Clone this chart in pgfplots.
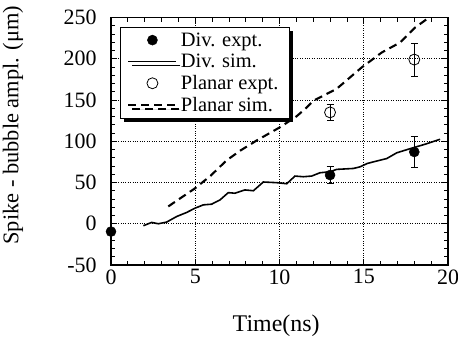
\documentclass[border=0pt]{standalone}
\usepackage{pgfplots}
\pgfplotsset{compat=1.18}
\usepackage{fontspec}
\setmainfont{Liberation Serif}
\usetikzlibrary{shadows}
\begin{document}
\begin{tikzpicture}
\useasboundingbox (-111bp,-74bp) rectangle (347bp,265bp);
\begin{axis}[
  at={(0,0)}, anchor=south west,
  scale only axis, width=337bp, height=247.5bp,
  xmin=0, xmax=20, ymin=-50, ymax=250,
  clip=false,
  xtick={0,5,10,15,20}, ytick={-50,0,50,100,150,200,250},
  minor x tick num=4, minor y tick num=4,
  tick align=inside, major tick length=6bp, minor tick length=4bp,
  tick style={black, line width=0.7pt},
  axis line style={line width=1.1pt},
  grid=major, major grid style={black, dotted, line width=0.7pt},
  /pgf/number format/assume math mode=true,
  tick label style={font=\fontsize{22}{24}\selectfont},
  yticklabel style={xshift=-11bp},
  xticklabel style={yshift=-1bp},
  xlabel={Time(ns)},
  xlabel style={font=\fontsize{24}{28}\selectfont, at={(axis description cs:0.49,0)}, anchor=base, yshift=-66bp},
  ylabel={Spike - bubble ampl. (μm)},
  ylabel style={font=\fontsize{22.5}{26}\selectfont, at={(axis description cs:0,0.565)}, anchor=center, yshift=98bp},
  legend image code/.code={\draw[mark repeat=2,mark phase=2,#1] plot coordinates {(0bp,0bp) (24bp,0bp) (48bp,0bp)};},
  legend style={at={(axis description cs:0,1)}, anchor=north west, xshift=9bp, yshift=-9.5bp,
    font=\fontsize{20.5}{22}\selectfont, draw=black, line width=0.8pt, fill=white,
    inner xsep=7bp, inner ysep=2bp, nodes={inner ysep=3.2bp, inner xsep=3.5bp},
    drop shadow={shadow xshift=4bp, shadow yshift=-4bp, fill=black, opacity=1},
    legend cell align=left},
]
\addplot[only marks, mark=*, mark size=5bp, mark options={fill=black, line width=0.5pt},
  error bars/.cd, y dir=both, y explicit, error bar style={line width=0.9pt},
  error mark options={rotate=90, mark size=3.5bp, line width=0.9pt}]
  coordinates {(0,-9.5) +- (0,0) (13,59) +- (0,10) (18,87) +- (0,19)};
\addlegendentry{Div. expt.}
\addplot[black, line width=1.6pt, mark=none] coordinates {
(1.92,-2.4) (2.41,1.6) (2.81,0) (3.30,2) (3.90,8.8) (4.49,13.7) (4.99,18.9) (5.48,22.9) (5.97,23.7) (6.47,28.9) (6.96,37.7) (7.36,37) (7.95,41) (8.45,40) (9.04,50.6) (9.83,49.8) (10.43,48.5) (10.92,57.8) (11.41,57) (11.91,57.8) (12.40,61.8) (13.0,63) (13.39,65.9) (14.38,67) (14.78,69) (15.2,73) (15.57,75) (16.36,79) (16.96,86) (17.75,91) (18.74,97) (19.53,102.4)};
\addlegendentry{Div. sim.}
\addplot[only marks, mark=o, mark size=5.5bp, mark options={line width=0.8pt},
  error bars/.cd, y dir=both, y explicit, error bar style={line width=0.9pt},
  error mark options={rotate=90, mark size=3.5bp, line width=0.9pt}]
  coordinates {(13,135) +- (0,10) (18,199) +- (0,20)};
\addlegendentry{Planar expt.}
\addplot[black, line width=2.1pt, dash pattern=on 8bp off 5bp, mark=none] coordinates {
(3.4,21) (4.99,43) (5.9,58) (6.87,77) (7.7,89) (8.65,101) (10.03,117) (11.0,130) (11.51,139) (12.0,149) (13.39,163.5) (14.88,189.5) (16.07,207.6) (17.15,219.6) (18.04,237.7) (18.74,248)};
\addlegendentry{Planar sim.}
\end{axis}
\end{tikzpicture}
\end{document}
